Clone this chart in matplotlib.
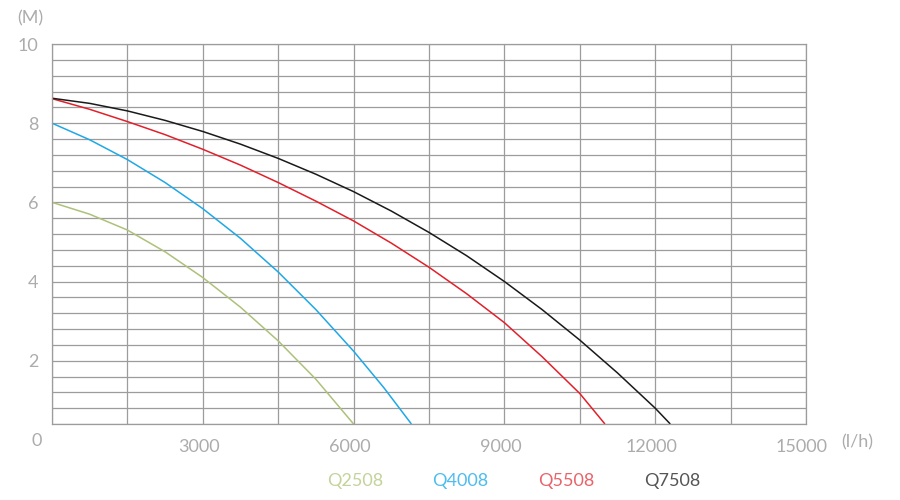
import numpy as np
import matplotlib
matplotlib.use('Agg')
from matplotlib import pyplot as plt
from matplotlib import transforms

# flow (l/h) and head (M)
flow_q2508 = [0, 750, 1500, 2250, 3000, 3750, 4500, 5250, 6000]
head_q2508 = [6.0, 5.7, 5.3, 4.75, 4.1, 3.35, 2.5, 1.53, 0.4]

flow_q4008 = [0, 750, 1500, 2250, 3000, 3750, 4500, 5250, 6000, 6600, 7150]
head_q4008 = [8.0, 7.58, 7.08, 6.5, 5.84, 5.09, 4.24, 3.29, 2.24, 1.32, 0.4]

flow_q5508 = [0, 750, 1500, 2250, 3000, 3750, 4500, 5250, 6000, 6750, 7500, 8250, 9000, 9750, 10500, 11000]
head_q5508 = [8.62, 8.35, 8.04, 7.71, 7.34, 6.94, 6.5, 6.03, 5.53, 4.97, 4.36, 3.69, 2.96, 2.1, 1.17, 0.4]

flow_q7508 = [0, 750, 1500, 2250, 3000, 3750, 4500, 5250, 6000, 6750, 7500, 8250, 9000, 9750, 10500, 11250, 12000, 12300]
head_q7508 = [8.63, 8.5, 8.31, 8.07, 7.79, 7.47, 7.11, 6.71, 6.27, 5.78, 5.24, 4.65, 4.0, 3.29, 2.52, 1.69, 0.8, 0.4]

names = ['Q2508', 'Q4008', 'Q5508', 'Q7508']
line_colors = ['#adc17a', '#1fa8e6', '#e2202b', '#1a1a1a']
text_colors = ['#c3d39a', '#4dbdee', '#e8636a', '#555555']

x_labels = ['3000', '6000', '9000', '12000', '15000']
y_labels = ['2', '4', '6', '8', '10']

plt.rcParams['font.family'] = ['Lato', 'DejaVu Sans']
label_color = '#acacac'
grid_color = '#9c9c9c'

fig = plt.figure(figsize=(9, 5), dpi=100)
ax = fig.add_axes([52 / 900, 76 / 500, 754 / 900, 380 / 500])

ax.set_xlim(0, 15000)
ax.set_ylim(0.4, 10)

# grid: every 1500 l/h and every 0.4 M
ax.set_xticks(np.arange(0, 15001, 1500), minor=True)
ax.set_yticks(np.arange(0.4, 10.01, 0.4), minor=True)
ax.set_xticks([int(s) for s in x_labels])
ax.set_xticklabels(x_labels)
ax.set_yticks([int(s) for s in y_labels])
ax.set_yticklabels(y_labels)
ax.grid(which='both', color=grid_color, linewidth=0.9)
ax.set_axisbelow(True)
ax.tick_params(which='both', length=0)
ax.tick_params(axis='x', pad=11, labelsize=13, labelcolor=label_color)
ax.tick_params(axis='y', pad=10, labelsize=13, labelcolor=label_color)
for sp in ax.spines.values():
    sp.set_color(grid_color)
    sp.set_linewidth(0.9)

# x labels sit a little left of their gridline
shift = transforms.ScaledTranslation(-4 / 100, 0, fig.dpi_scale_trans)
for lab in ax.get_xticklabels():
    lab.set_transform(lab.get_transform() + shift)

series = [(flow_q2508, head_q2508), (flow_q4008, head_q4008),
          (flow_q5508, head_q5508), (flow_q7508, head_q7508)]
for (fx, hy), c in zip(series, line_colors):
    ax.plot(fx, hy, color=c, linewidth=1.1, solid_joinstyle='round',
            solid_capstyle='butt', clip_on=False)

# corner / unit labels
fig.text(42 / 900, 1 - 441 / 500, '0', ha='right', va='center', fontsize=13, color=label_color)
fig.text(30 / 900, 1 - 18 / 500, '(M)', ha='center', va='center', fontsize=13, color=label_color)
fig.text(857 / 900, 1 - 442 / 500, '(l/h)', ha='center', va='center', fontsize=13, color=label_color)

# legend as coloured names
legend_x = [355, 460, 566, 672]
for name, tc, lx in zip(names, text_colors, legend_x):
    fig.text(lx / 900, 1 - 481 / 500, name, ha='center', va='center', fontsize=13, color=tc)

plt.savefig('out.png', dpi=100)
